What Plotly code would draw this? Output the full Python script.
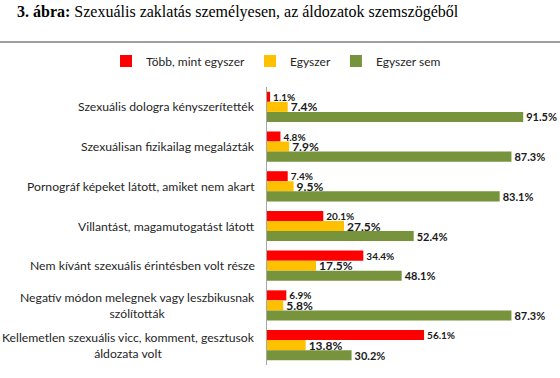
import plotly.graph_objects as go

categories = [
    "Szexuális dologra kényszerítették",
    "Szexuálisan fizikailag megalázták",
    "Pornográf képeket látott, amiket nem akart",
    "Villantást, magamutogatást látott",
    "Nem kívánt szexuális érintésben volt része",
    "Negatív módon melegnek vagy leszbikusnak<br>szólították",
    "Kellemetlen szexuális vicc, komment, gesztusok<br>áldozata volt",
]
tobb = [1.1, 4.8, 7.4, 20.1, 34.4, 6.9, 56.1]
egyszer = [7.4, 7.9, 9.5, 27.5, 17.5, 5.8, 13.8]
egyszer_sem = [91.5, 87.3, 83.1, 52.4, 48.1, 87.3, 30.2]

series = [
    ("Több, mint egyszer", tobb, "#FF0000", 10),
    ("Egyszer", egyszer, "#FFC000", 12),
    ("Egyszer sem", egyszer_sem, "#77933C", 11),
]

W, H = 560, 378
L, R, T, B = 267, 0, 87, 13
pw, ph = W - L - R, H - T - B
px_per_unit = 2.8

fig = go.Figure()
for name, vals, col, fs in series:
    fig.add_trace(go.Bar(
        y=categories, x=vals, name=name, orientation="h",
        marker=dict(color=col, line=dict(width=0)),
        text=[f"{v:.1f}%" for v in vals], textposition="outside",
        constraintext="none", cliponaxis=False,
        textfont=dict(family="Lato", size=fs, color="#1a1a1a", weight="bold"),
    ))

annotations = []
for c in categories:
    annotations.append(dict(
        x=(257 - L) / pw, xref="paper", y=c, yref="y", text=c,
        showarrow=False, xanchor="right", align="center",
        font=dict(family="Lato", size=12.2, color="#262626"),
    ))

fig.update_layout(
    width=W, height=H,
    margin=dict(l=L, r=R, t=T, b=B, autoexpand=False),
    paper_bgcolor="white", plot_bgcolor="white",
    barmode="group", bargap=0.24, bargroupgap=0,
    title=dict(
        text="<b>3. ábra:</b> Szexuális zaklatás személyesen, az áldozatok szemszögéből",
        x=17 / W, xref="container", xanchor="left",
        y=1 - 11 / H, yref="container", yanchor="middle",
        font=dict(family="Liberation Serif", size=16, color="#000000"),
    ),
    legend=dict(
        orientation="h", x=(106 - L) / pw, xref="paper", xanchor="left",
        y=1 + (T - 61) / ph, yanchor="middle",
        font=dict(family="Lato", size=12, color="#262626"),
        itemwidth=30, traceorder="normal",
    ),
    xaxis=dict(range=[0, pw / px_per_unit], showgrid=False, zeroline=False,
               showticklabels=False, ticks="", showline=False, fixedrange=True),
    yaxis=dict(autorange="reversed", showticklabels=False, ticks="",
               showline=True, linecolor="#A6A6A6", linewidth=1,
               showgrid=False, zeroline=False),
    annotations=annotations,
    shapes=[dict(type="line", xref="paper", yref="paper",
                 x0=-L / pw, x1=(W - L) / pw,
                 y0=1 + (T - 42) / ph, y1=1 + (T - 42) / ph,
                 line=dict(color="#A0A0A0", width=2))],
    showlegend=True,
)

fig.write_html("out.html", config={"displayModeBar": False},
               post_script="document.body.style.margin='0';")
